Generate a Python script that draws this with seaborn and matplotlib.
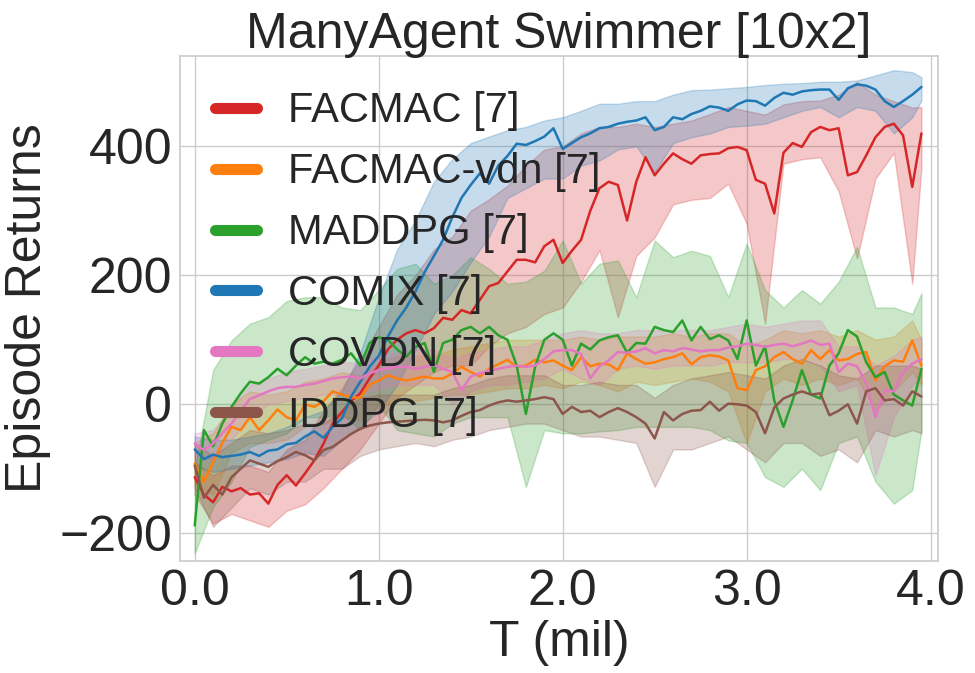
import numpy as np
import pandas as pd
import matplotlib
matplotlib.use("Agg")
import matplotlib.pyplot as plt
from matplotlib.lines import Line2D
import seaborn as sns

# ---------------- data ----------------
T = [round(0.05 * i, 2) for i in range(80)]  # 0.00 .. 3.95 (mil)
T_BAND = [round(0.1 * i, 1) for i in range(40)] + [3.95]

labels = ["FACMAC [7]", "FACMAC-vdn [7]", "MADDPG [7]", "COMIX [7]", "COVDN [7]", "IDDPG [7]"]
colors = ["#d62728", "#ff7f0e", "#2ca02c", "#1f77b4", "#e377c2", "#8c564b"]

facmac = [-113, -140, -152, -128, -135, -130, -140, -138, -154, -125,
          -110, -126, -107, -87, -61, -30, -12, 5, 17, 40,
          60, 85, 100, 110, 115, 110, 118, 134, 131, 146,
          141, 162, 183, 188, 206, 224, 224, 220, 245, 255,
          219, 238, 255, 300, 335, 345, 340, 285, 345, 383,
          355, 373, 389, 380, 373, 386, 388, 389, 397, 399,
          394, 348, 342, 296, 390, 405, 399, 422, 430, 425,
          428, 355, 360, 386, 414, 430, 435, 417, 337, 420]
facmac_lo = [-140, -185, -170, -180, -190, -165, -155, -130, -100, -70,
             -30, 10, 30, 50, 60, 60, 90, 110, 120, 140,
             150, 190, 239, 135, 230, 259, 310, 317, 320, 342,
             280, 125, 373, 380, 383, 330, 226, 350, 390, 187, 367]
facmac_hi = [-90, -110, -95, -95, -105, -70, -55, -10, 25, 70,
             120, 170, 200, 240, 260, 300, 318, 339, 370, 395,
             400, 420, 430, 430, 435, 430, 435, 440, 450, 461,
             455, 449, 465, 470, 471, 480, 500, 480, 470, 460, 461]

facmac_vdn = [-92, -120, -90, -60, -35, -40, -20, -40, -25, -8,
              -20, -25, 0, -4, 5, 20, 15, 11, 10, 30,
              37, 45, 40, 37, 40, 43, 40, 40, 48, 58,
              50, 43, 55, 62, 69, 58, 60, 69, 65, 68,
              60, 53, 73, 59, 63, 62, 53, 79, 70, 63,
              65, 70, 73, 79, 62, 73, 76, 74, 68, 25,
              22, 53, 59, 73, 81, 70, 63, 84, 70, 84,
              68, 70, 78, 81, 37, 59, 68, 66, 99, 60]
facmac_vdn_lo = [-125, -140, -75, -60, -60, -55, -35, -30, -20, -25,
                 -5, 5, 5, 10, 15, 15, 20, 25, 25, 30,
                 25, 35, 30, 20, 35, 30, 35, 40, 35, 20,
                 -60, 20, 40, 30, 40, 30, 40, -10, 20, 50, 30]
facmac_vdn_hi = [-60, -45, 0, 20, 15, 20, 35, 40, 50, 45,
                 65, 75, 75, 75, 85, 90, 95, 100, 100, 100,
                 100, 105, 100, 105, 105, 105, 110, 105, 110, 110,
                 90, 100, 115, 110, 115, 105, 115, 100, 105, 130, 100]

maddpg = [-188, -40, -65, -30, -4, 17, 35, 32, 42, 55,
          45, 60, 73, 63, 66, 63, 69, 79, 60, 95,
          104, 100, 85, 74, 89, 95, 50, 95, 100, 115,
          120, 110, 120, 107, 100, 60, -15, 58, 100, 110,
          100, 60, 94, 85, 99, 104, 107, 80, 95, 94,
          120, 115, 112, 130, 99, 120, 101, 107, 99, 70,
          130, 60, 90, 6, -35, 6, 53, 15, 9, 60,
          79, 115, 105, 65, 42, 50, 15, 6, -2, 55]
maddpg_lo = [-231, -159, -120, -66, -55, -45, -20, -20, -15, -40,
             0, -40, -45, -50, -30, -20, -20, -20, -128, -40,
             -45, -45, -42, -40, -35, -35, -35, -35, -40, -56,
             -60, -113, -128, -100, -133, -60, -50, -120, -154, -133, -40]
maddpg_hi = [-100, 53, 99, 125, 135, 160, 166, 166, 150, 146,
             177, 210, 218, 187, 200, 228, 210, 187, 190, 207,
             254, 187, 218, 223, 166, 254, 228, 238, 230, 166,
             249, 177, 150, 177, 156, 190, 244, 150, 150, 140, 172]

comix = [-70, -85, -78, -82, -80, -78, -74, -80, -72, -70,
         -62, -60, -50, -42, -52, -35, -22, 12, 35, 58,
         75, 105, 130, 150, 175, 205, 230, 255, 290, 320,
         340, 358, 342, 370, 385, 404, 402, 408, 415, 428,
         396, 405, 414, 420, 428, 430, 435, 438, 440, 445,
         425, 430, 445, 442, 450, 455, 462, 460, 455, 465,
         471, 470, 463, 475, 483, 480, 485, 487, 488, 488,
         472, 490, 496, 494, 488, 470, 461, 470, 480, 492]
comix_lo = [-95, -105, -100, -95, -90, -85, -75, -80, -55, -35,
            -10, 30, 84, 140, 175, 220, 260, 320, 335, 350,
            350, 370, 378, 395, 400, 360, 405, 414, 420, 430,
            432, 435, 445, 455, 461, 445, 461, 455, 420, 445, 471]
comix_hi = [-50, -55, -55, -50, -45, -35, -20, -10, 20, 80,
            165, 240, 285, 345, 380, 405, 415, 425, 430, 440,
            445, 455, 466, 466, 470, 470, 480, 487, 488, 490,
            492, 495, 497, 498, 500, 500, 502, 510, 518, 515, 507]

covdn = [-61, -71, -61, -45, -30, -10, 8, 14, 20, 25,
         27, 27, 30, 32, 36, 40, 42, 43, 40, 48,
         53, 56, 58, 58, 55, 58, 61, 55, 50, 22,
         43, 48, 52, 55, 58, 60, 58, 60, 70, 82,
         84, 84, 78, 40, 59, 68, 81, 80, 82, 87,
         79, 84, 82, 87, 85, 82, 84, 84, 88, 90,
         94, 92, 89, 92, 94, 90, 94, 99, 92, 94,
         50, 63, 59, 32, -20, 22, 20, 50, 63, 70]
covdn_lo = [-80, -85, -55, -20, 0, 5, 10, 15, 15, 15,
            25, 30, 30, 30, 0, 20, 30, 30, 35, 40,
            55, 40, 30, 55, 60, 55, 60, 60, 60, 65,
            65, 65, 70, 70, 60, 20, 30, -110, -20, 30, 40]
covdn_hi = [-45, -40, -5, 30, 40, 50, 55, 60, 65, 65,
            75, 80, 85, 85, 70, 80, 85, 90, 90, 100,
            110, 115, 110, 110, 115, 115, 115, 115, 115, 120,
            125, 120, 125, 130, 130, 90, 90, 60, 75, 100, 105]

iddpg = [-95, -145, -125, -140, -113, -100, -87, -92, -97, -88,
         -82, -74, -79, -87, -71, -66, -56, -46, -38, -33,
         -30, -28, -27, -26, -25, -24, -25, -28, -25, -18,
         -12, -9, -2, 3, 6, 4, 6, 8, 11, 8,
         -15, -4, -12, -10, -20, -12, -6, -12, -20, -30,
         -53, -12, -25, -15, -10, -9, 4, -10, 1, 0,
         -2, -12, -45, -5, 9, 15, 20, 15, 17, -17,
         -10, 0, -30, 20, 25, 6, 8, -2, 20, 12]
iddpg_lo = [-130, -190, -160, -130, -140, -120, -120, -100, -100, -80,
            -70, -65, -60, -65, -55, -50, -40, -35, -30, -30,
            -40, -50, -50, -55, -60, -128, -70, -70, -60, -50,
            -70, -90, -60, -60, -80, -70, -90, -40, -50, -40, -45]
iddpg_hi = [-60, -80, -60, -40, -45, -40, -30, -30, -10, 10,
            15, 15, 15, 15, 25, 30, 40, 45, 45, 45,
            30, 30, 35, 30, 30, 10, 30, 40, 45, 50,
            45, 40, 60, 70, 60, 45, 40, 60, 60, 60, 55]

means = [facmac, facmac_vdn, maddpg, comix, covdn, iddpg]
lows = [facmac_lo, facmac_vdn_lo, maddpg_lo, comix_lo, covdn_lo, iddpg_lo]
highs = [facmac_hi, facmac_vdn_hi, maddpg_hi, comix_hi, covdn_hi, iddpg_hi]

# ---------------- style ----------------
sns.set_theme(style="whitegrid")
plt.rcParams["font.family"] = ["Liberation Sans", "DejaVu Sans"]

fig = plt.figure(figsize=(9.75, 6.73), dpi=100)
ax = fig.add_axes([180 / 975, 1 - 561 / 673, (938 - 180) / 975, (561 - 56) / 673])

frames = []
for lab, m in zip(labels, means):
    frames.append(pd.DataFrame({"T": T, "ret": m, "algo": lab}))
df = pd.concat(frames, ignore_index=True)

for lab, col, lo, hi in zip(labels, colors, lows, highs):
    ax.fill_between(T_BAND, lo, hi, color=col, alpha=0.25, linewidth=1.0,
                    edgecolor=col)

sns.lineplot(data=df, x="T", y="ret", hue="algo", hue_order=labels,
             palette=colors, linewidth=1.8, ax=ax, legend=False,
             estimator=None, sort=False)

ax.set_xlim(-0.08, 4.04)
ax.set_ylim(-243, 540)
ax.set_xticks([0, 1, 2, 3, 4])
ax.set_xticklabels(["0.0", "1.0", "2.0", "3.0", "4.0"])
ax.set_yticks([-200, 0, 200, 400])
ax.tick_params(axis="both", labelsize=36, length=0, pad=5.5)
ax.set_xlabel("T (mil)", fontsize=36, labelpad=4)
ax.set_ylabel("Episode Returns", fontsize=36, labelpad=6)
ax.set_title("ManyAgent Swimmer [10x2]", fontsize=36, pad=6)

handles = [Line2D([0], [0], color=c, lw=8, solid_capstyle="round") for c in colors]
ax.legend(handles, labels, loc="upper left", fontsize=30, frameon=False,
          handlelength=1.0, handletextpad=0.75, labelspacing=0.5,
          borderaxespad=0.45, borderpad=0.4)

fig.savefig("out.png", dpi=100)
